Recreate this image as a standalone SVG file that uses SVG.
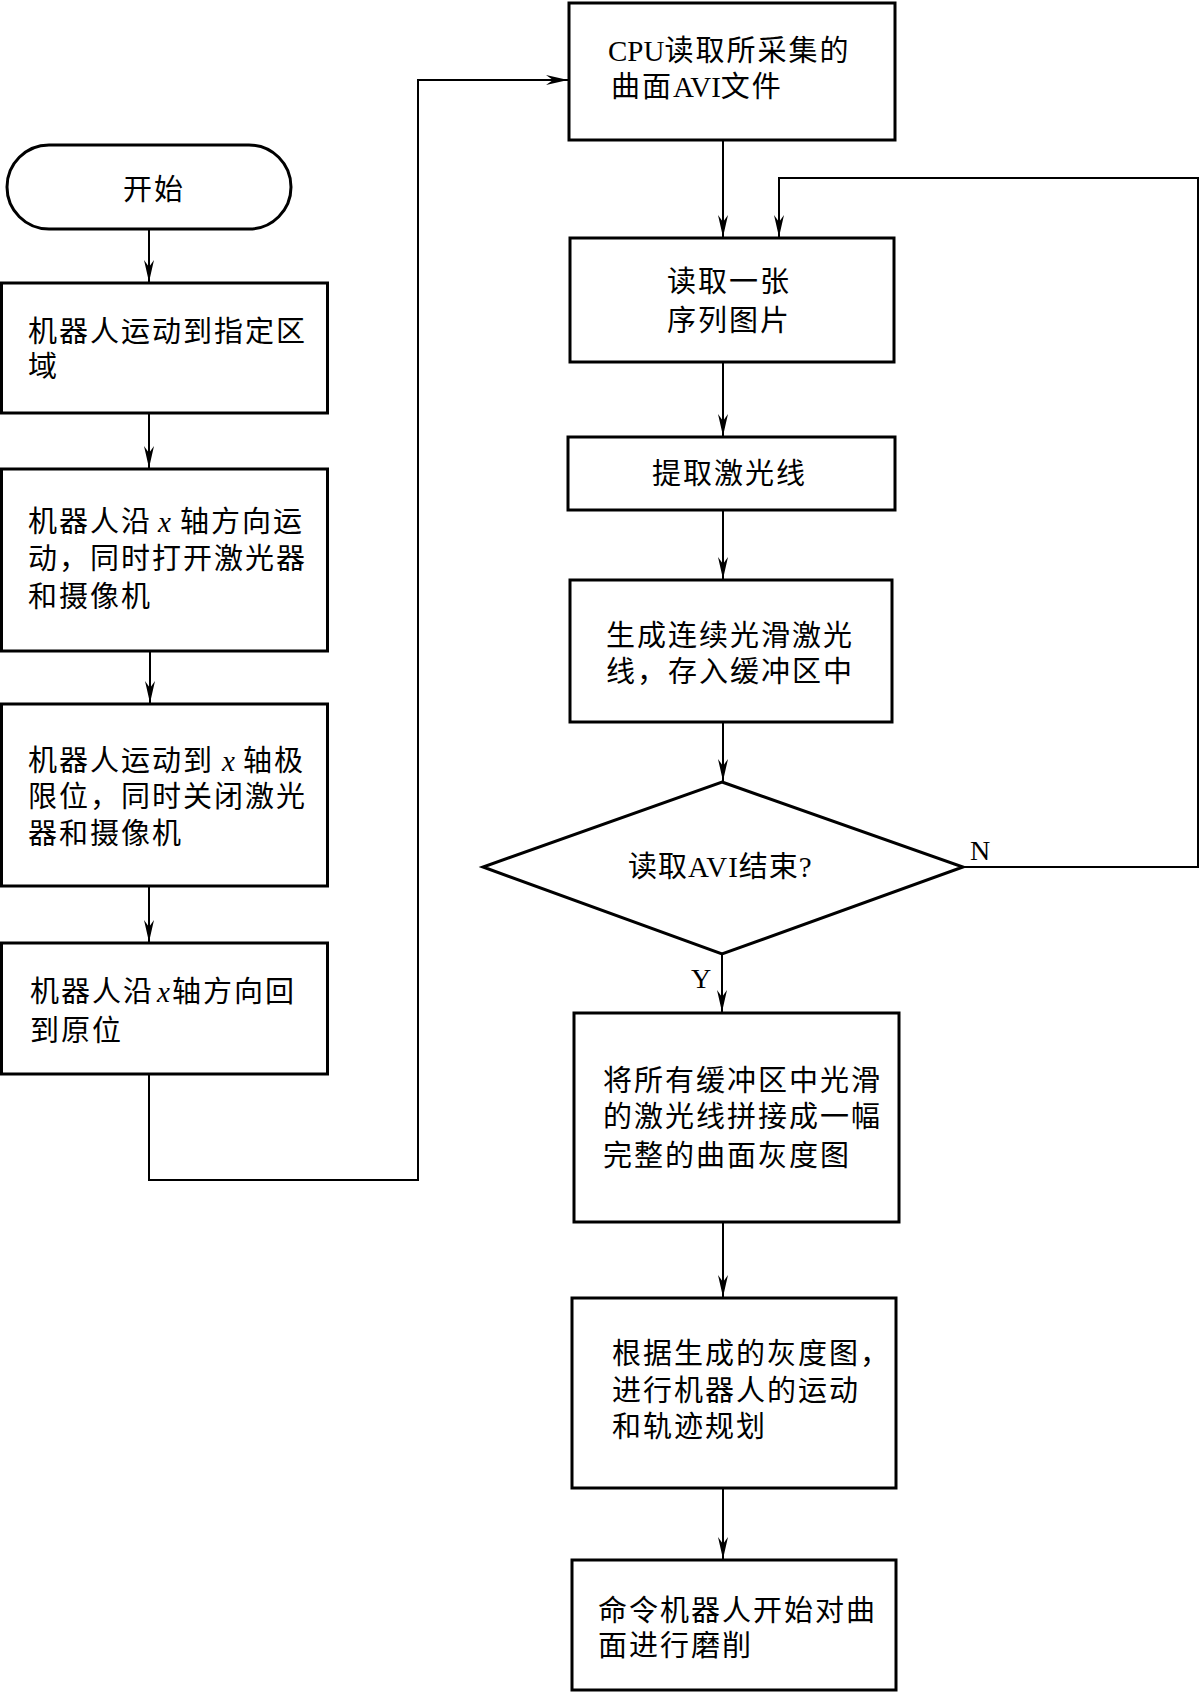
<svg xmlns="http://www.w3.org/2000/svg" width="1200" height="1692" viewBox="0 0 1200 1692">
<style>
  .box{fill:#fff;stroke:#000;stroke-width:3}
  .ln{fill:none;stroke:#000;stroke-width:2}
  .t{font-family:"Liberation Serif","Noto Sans CJK SC",serif;font-size:29px;letter-spacing:2px;fill:#000}
  .d{letter-spacing:1px}
  .l{letter-spacing:0}
  .i{font-family:"Liberation Serif",serif;font-style:italic;letter-spacing:0}
  .lbl{font-family:"Liberation Serif",serif;font-size:28px;fill:#000}
</style>
<defs>
  <marker id="arr" markerUnits="userSpaceOnUse" markerWidth="24" markerHeight="12" viewBox="-22 -6 24 12" refX="0" refY="0" orient="auto">
    <path d="M0,0 L-22,-5 L-15,0 L-22,5 Z" fill="#000"/>
  </marker>
</defs>
<rect width="1200" height="1692" fill="#fff"/>
<g id="connectors">
  <line class="ln" x1="149" y1="229" x2="149" y2="282" marker-end="url(#arr)"/>
  <line class="ln" x1="149" y1="413" x2="149" y2="468" marker-end="url(#arr)"/>
  <line class="ln" x1="150" y1="651" x2="150" y2="703" marker-end="url(#arr)"/>
  <line class="ln" x1="149" y1="886" x2="149" y2="942" marker-end="url(#arr)"/>
  <polyline class="ln" points="149,1074 149,1180 418,1180 418,80 568,80" marker-end="url(#arr)"/>
  <line class="ln" x1="723" y1="140" x2="723" y2="237" marker-end="url(#arr)"/>
  <line class="ln" x1="723" y1="362" x2="723" y2="436" marker-end="url(#arr)"/>
  <line class="ln" x1="723" y1="510" x2="723" y2="579" marker-end="url(#arr)"/>
  <line class="ln" x1="723" y1="722" x2="723" y2="781" marker-end="url(#arr)"/>
  <polyline class="ln" points="963,867 1198,867 1198,178 779,178 779,237" marker-end="url(#arr)"/>
  <line class="ln" x1="722" y1="954" x2="722" y2="1012" marker-end="url(#arr)"/>
  <line class="ln" x1="723" y1="1222" x2="723" y2="1297" marker-end="url(#arr)"/>
  <line class="ln" x1="723" y1="1488" x2="723" y2="1559" marker-end="url(#arr)"/>
  <text class="lbl" x="970" y="860">N</text>
  <text class="lbl" x="691" y="988">Y</text>
</g>
<g id="start">
  <rect class="box" x="7" y="145" width="284" height="84" rx="42" ry="42"/>
  <text class="t" x="123" y="200">开始</text>
</g>
<g id="n1">
  <rect class="box" x="1.5" y="283" width="326" height="130"/>
  <text class="t" x="28" y="342">机器人运动到指定区</text>
  <text class="t" x="28" y="377">域</text>
</g>
<g id="n2">
  <rect class="box" x="1.5" y="469" width="326" height="182"/>
  <text class="t" y="532"><tspan x="28">机器人沿</tspan><tspan class="i" x="158">x</tspan><tspan x="180">轴方向运</tspan></text>
  <text class="t" x="28" y="569">动，同时打开激光器</text>
  <text class="t" x="28" y="607">和摄像机</text>
</g>
<g id="n3">
  <rect class="box" x="1.5" y="704" width="326" height="182"/>
  <text class="t" y="771"><tspan x="28">机器人运动到</tspan><tspan class="i" x="222">x</tspan><tspan x="243">轴极</tspan></text>
  <text class="t" x="28" y="807">限位，同时关闭激光</text>
  <text class="t" x="28" y="844">器和摄像机</text>
</g>
<g id="n4">
  <rect class="box" x="1.5" y="943" width="326" height="131"/>
  <text class="t" y="1002"><tspan x="30">机器人沿</tspan><tspan class="i" x="157">x</tspan><tspan x="172">轴方向回</tspan></text>
  <text class="t" x="30" y="1041">到原位</text>
</g>
<g id="n5">
  <rect class="box" x="569" y="3" width="326" height="137"/>
  <text class="t" x="608" y="61"><tspan class="l">CPU</tspan>读取所采集的</text>
  <text class="t" x="611" y="97">曲面<tspan class="l">AVI</tspan>文件</text>
</g>
<g id="n6">
  <rect class="box" x="570" y="238" width="324" height="124"/>
  <text class="t" x="667" y="292">读取一张</text>
  <text class="t" x="667" y="331">序列图片</text>
</g>
<g id="n7">
  <rect class="box" x="568" y="437" width="327" height="73"/>
  <text class="t" x="652" y="484">提取激光线</text>
</g>
<g id="n8">
  <rect class="box" x="570" y="580" width="322" height="142"/>
  <text class="t" x="606" y="646">生成连续光滑激光</text>
  <text class="t" x="606" y="682">线，存入缓冲区中</text>
</g>
<g id="n9">
  <polygon class="box" points="722,782 963,867 722,954 483,867"/>
  <text class="t d" x="628" y="877">读取AVI结束?</text>
</g>
<g id="n10">
  <rect class="box" x="574" y="1013" width="325" height="209"/>
  <text class="t" x="603" y="1091">将所有缓冲区中光滑</text>
  <text class="t" x="603" y="1127">的激光线拼接成一幅</text>
  <text class="t" x="603" y="1166">完整的曲面灰度图</text>
</g>
<g id="n11">
  <rect class="box" x="572" y="1298" width="324" height="190"/>
  <text class="t" x="612" y="1364">根据生成的灰度图，</text>
  <text class="t" x="612" y="1401">进行机器人的运动</text>
  <text class="t" x="612" y="1437">和轨迹规划</text>
</g>
<g id="n12">
  <rect class="box" x="572" y="1560" width="324" height="130"/>
  <text class="t" x="598" y="1621">命令机器人开始对曲</text>
  <text class="t" x="598" y="1656">面进行磨削</text>
</g>
</svg>
